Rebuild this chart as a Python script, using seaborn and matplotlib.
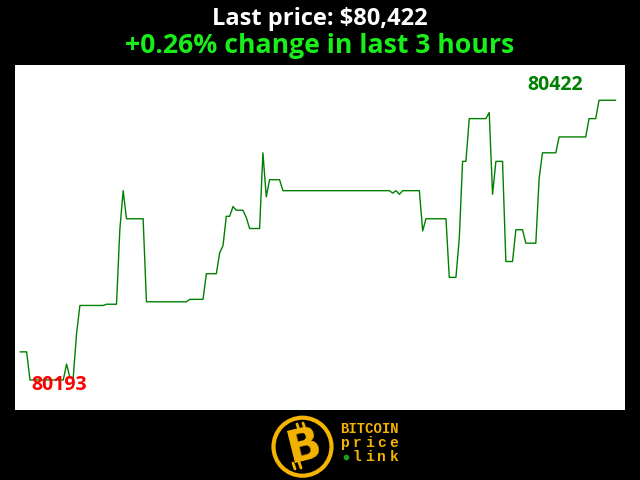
import numpy as np
import pandas as pd
import seaborn as sns
import matplotlib.pyplot as plt
from matplotlib.patches import Circle

# minute index within the last 3 hours, and BTC price at the corners of the line
minutes = [0, 2, 3, 13, 14, 15, 16, 17, 18, 25, 26, 29, 30, 31, 32, 37, 38, 50, 51, 55,
           56, 59, 60, 61, 62, 63, 64, 65, 67, 68, 69, 72, 73, 74, 75, 78, 79, 111, 112, 113,
           114, 115, 120, 121, 122, 128, 129, 131, 132, 133, 134, 135, 140, 141, 142, 143, 145, 146, 148, 149,
           151, 152, 155, 156, 157, 161, 162, 170, 171, 173, 174, 179]
prices = [80216, 80216, 80193, 80193, 80206, 80195, 80195, 80231, 80254, 80254, 80255, 80255, 80316, 80348, 80325, 80325, 80257, 80257, 80259, 80259,
          80280, 80280, 80297, 80303, 80327, 80327, 80335, 80332, 80332, 80326, 80317, 80317, 80379, 80343, 80357, 80357, 80348, 80348, 80346, 80348,
          80345, 80348, 80348, 80315, 80325, 80325, 80277, 80277, 80309, 80372, 80372, 80407, 80407, 80412, 80345, 80372, 80372, 80290, 80290, 80316,
          80316, 80305, 80305, 80358, 80379, 80379, 80392, 80392, 80407, 80407, 80422, 80422]

last_price = 80422
low_price = 80193
title_1 = "Last price: $80,422"
title_2 = "+0.26% change in last 3 hours"

df = pd.DataFrame({'minute': minutes, 'price': prices})

sns.set_style('white')
plt.rcParams['font.family'] = ['Open Sans', 'DejaVu Sans']

fig = plt.figure(figsize=(6.4, 4.8), dpi=100, facecolor='black')
ax = fig.add_axes([15 / 640, 70 / 480, 610 / 640, 345 / 480])
sns.lineplot(data=df, x='minute', y='price', ax=ax, color='#008000', linewidth=1.0)
ax.set_xlim(-1.5, 181.8)
ax.set_ylim(80168.4, 80450.9)
ax.set_facecolor('white')
for s in ax.spines.values():
    s.set_visible(False)
ax.set_xticks([])
ax.set_yticks([])
ax.set_xlabel('')
ax.set_ylabel('')

# min / max labels
ax.text(3.3, 80184.8, str(low_price), color='#ff0000', fontsize=14, fontweight='bold',
        ha='left', va='baseline')
ax.text(169.2, 80430.4, str(last_price), color='#008000', fontsize=14, fontweight='bold',
        ha='right', va='baseline')

fig.text(0.5, 1 - 25 / 480, title_1, color='white', fontsize=17, fontweight='bold',
         ha='center', va='baseline')
fig.text(0.5, 1 - 53 / 480, title_2, color='#1aee1a', fontsize=19.2, fontweight='bold',
         ha='center', va='baseline')

# logo at the bottom
gold = '#f5b400'
lax = fig.add_axes([0, 0, 1, 70 / 480])
lax.set_xlim(0, 640)
lax.set_ylim(70, 0)
lax.set_axis_off()
lax.add_patch(Circle((302.5, 36.7), 29, facecolor='black', edgecolor=gold, linewidth=3))
lax.text(304, 37, 'B', color=gold, fontsize=32, fontweight='heavy', family='DejaVu Sans',
         ha='center', va='center', rotation=14)
lax.plot([297, 299], [14, 20], color=gold, lw=2)
lax.plot([303, 305], [13, 19], color=gold, lw=2)
lax.plot([293, 295], [53, 59], color=gold, lw=2)
lax.plot([299, 301], [52, 58], color=gold, lw=2)

lax.text(369.5, 23, 'BITCOIN', color=gold, fontsize=10, fontweight='bold',
         family='Liberation Mono', ha='center', va='baseline')
for word, y in [('price', 37), ('link', 51)]:
    if word == 'link':
        lax.plot(346, y - 4, marker='o', color='#1aa01a', markersize=3)
        xs = np.linspace(357, 394, len(word))
    else:
        xs = np.linspace(345, 394, len(word))
    for ch, xx in zip(word, xs):
        lax.text(xx, y, ch, color=gold, fontsize=10.5, fontweight='bold',
                 family='Liberation Mono', ha='center', va='baseline')

fig.savefig('out.png', dpi=100, facecolor='black')
